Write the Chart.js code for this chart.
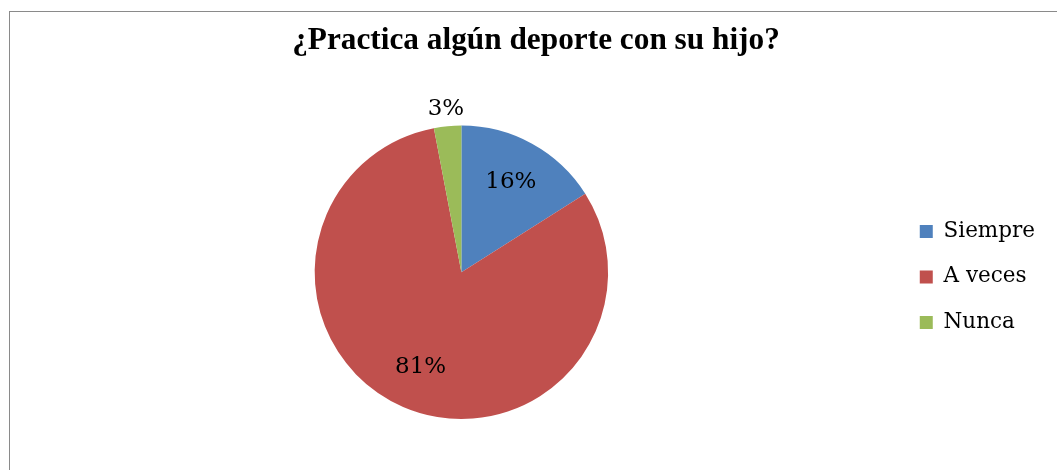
<!DOCTYPE html>
<html>
<head>
<meta charset="utf-8">
<script src="https://cdn.jsdelivr.net/npm/chart.js@4/dist/chart.umd.min.js"></script>
<style>
  html, body { margin: 0; padding: 0; background: #fff; overflow: hidden; }
  #wrap { position: relative; width: 1057px; height: 470px; }
  #frame { position: absolute; left: 9px; top: 11px; width: 1200px; height: 600px;
           border: 1px solid #8a8a8a; pointer-events: none; }
  canvas { position: absolute; left: 0; top: 0; }
</style>
</head>
<body>
<div id="wrap">
  <canvas id="canvas-1" width="1057" height="470"></canvas>
  <div id="frame"></div>
</div>
<script>
// chart data
var titleText = '¿Practica algún deporte con su hijo?';
var labels = ['Siempre', 'A veces', 'Nunca'];
var values = [16, 81, 3];
var colors = ['#4F81BD', '#C0504D', '#9BBB59'];

// draws the percentage next to each slice
var sliceLabels = {
  id: 'sliceLabels',
  afterDatasetsDraw: function (chart) {
    var ctx = chart.ctx;
    var meta = chart.getDatasetMeta(0);
    var total = values.reduce(function (a, b) { return a + b; }, 0);
    ctx.save();
    ctx.font = '23px "DejaVu Serif"';
    ctx.fillStyle = '#000';
    ctx.textAlign = 'center';
    ctx.textBaseline = 'middle';
    meta.data.forEach(function (arc, i) {
      var p = arc.getProps(['x', 'y', 'startAngle', 'endAngle', 'outerRadius'], true);
      var mid = (p.startAngle + p.endAngle) / 2;
      var pct = Math.round(values[i] / total * 100);
      var r = pct < 5 ? p.outerRadius + 17 : p.outerRadius * 0.7;
      ctx.fillText(pct + '%', p.x + Math.cos(mid) * r, p.y + Math.sin(mid) * r);
    });
    ctx.restore();
  }
};

var pieChart = new Chart(document.getElementById('canvas-1'), {
  type: 'pie',
  data: {
    labels: labels,
    datasets: [{
      data: values,
      backgroundColor: colors,
      borderWidth: 0
    }]
  },
  options: {
    responsive: false,
    animation: false,
    layout: { padding: { top: 0, bottom: 51, left: 27, right: 12 } },
    plugins: {
      title: {
        display: true,
        text: titleText,
        color: '#000',
        font: { family: '"Liberation Serif"', size: 31.3, weight: 'bold' },
        padding: { top: 22, bottom: 66 }
      },
      legend: {
        position: 'right',
        fullSize: false,
        title: { display: true, text: ' ', font: { size: 1 }, padding: 4 },
        labels: {
          color: '#000',
          font: { family: '"DejaVu Serif"', size: 21.5 },
          boxWidth: 13,
          boxHeight: 13,
          padding: 24
        }
      },
      tooltip: { enabled: false }
    }
  },
  plugins: [sliceLabels]
});
</script>
</body>
</html>
